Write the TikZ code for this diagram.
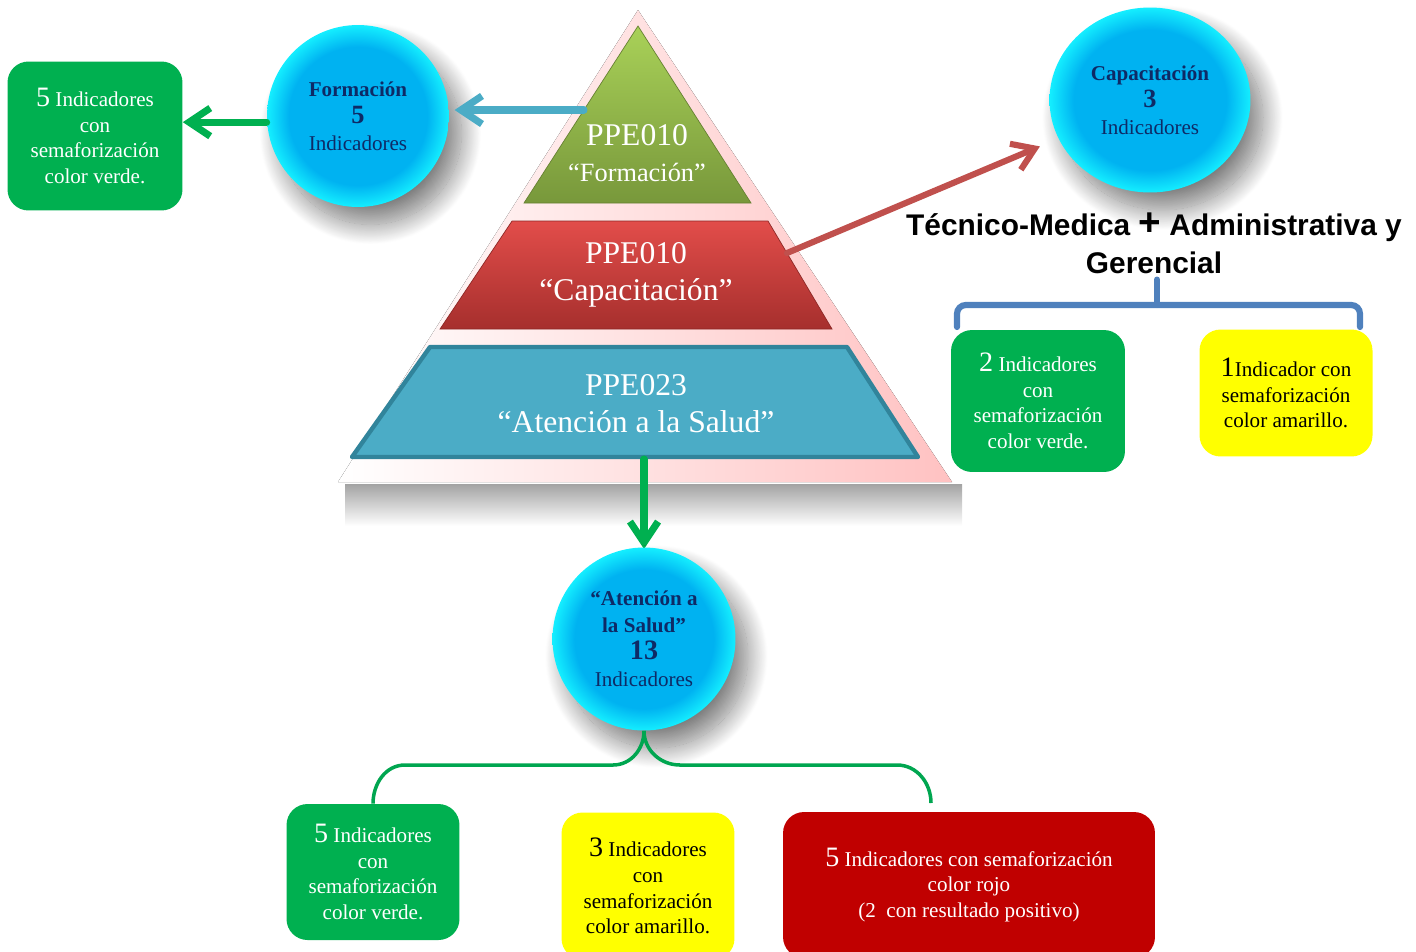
\documentclass[tikz,border=0pt]{standalone}
\usepackage{fontspec}
\setmainfont{Liberation Serif}
\newfontfamily\titulo{Liberation Sans}
\usetikzlibrary{arrows.meta,shapes.geometric,shadows.blur}

\definecolor{verde}{HTML}{00B050}
\definecolor{verdeR}{HTML}{00A650}
\definecolor{amarillo}{HTML}{FFFF00}
\definecolor{rojo}{HTML}{C00000}
\definecolor{azul}{HTML}{4BACC6}
\definecolor{azulosc}{HTML}{31849B}
\definecolor{marino}{HTML}{0E2A66}
\definecolor{cielo}{HTML}{00B2F1}
\definecolor{cian}{HTML}{14EEFF}
\definecolor{llavea}{HTML}{4F81BD}
\definecolor{flecharoja}{HTML}{C0504D}
\definecolor{verdeA}{HTML}{A9D158}
\definecolor{verdeB}{HTML}{78983B}
\definecolor{rojoA}{HTML}{E24D4A}
\definecolor{rojoB}{HTML}{A62F2D}

\pgfdeclareradialshading{burbuja}{\pgfpoint{0bp}{0bp}}{%
  color(0bp)=(cielo); color(19bp)=(cielo); color(25bp)=(cian); color(50bp)=(cian)}

\newcommand{\cifra}[1]{{\fontsize{16}{14.6}\selectfont #1}}

\begin{document}
\begin{tikzpicture}[x=0.02cm, y=-0.02cm,
    caja/.style={rounded corners=0.42cm, align=center, inner sep=0pt,
      font=\fontsize{12}{14.6}\selectfont},
    bola/.style={shading=burbuja, align=center, text=marino, inner sep=0pt,
      font=\fontsize{12}{15.3}\selectfont,
      blur shadow={shadow xshift=0.25cm, shadow yshift=-0.35cm,
        shadow blur radius=0.4cm, shadow blur steps=30, shadow opacity=50}},
    flecha/.style={line width=4pt, line cap=round,
      -{Straight Barb[length=12pt,width=16pt]}},
    nivel/.style={text=white, align=center},
    ramal/.style={line width=2pt, verdeR},
    llave/.style={line width=3.5pt, llavea, line cap=round, rounded corners=5pt}]

  \useasboundingbox (0,0) rectangle (1416,951);

  % sombra y fondo de la piramide
  \fill[top color=black!36, bottom color=white] (345,484) rectangle (962,526);
  \fill[left color=white, right color=red!24] (638,10) -- (952,482) -- (338,482) -- cycle;

  % niveles
  \draw[verdeB!85!black, top color=verdeA, bottom color=verdeB]
    (638,26) -- (751,203) -- (524,203) -- cycle;
  \draw[rojoB!85!black, top color=rojoA, bottom color=rojoB]
    (512,221) -- (768,221) -- (832,329) -- (440,329) -- cycle;
  \draw[azulosc, fill=azul, line width=2.5pt, line join=round]
    (430,347) -- (847,347) -- (918,457) -- (352,457) -- cycle;

  \node[nivel, font=\fontsize{18}{20.5}\selectfont] (nForm) at (637,153)
    {PPE010\\\fontsize{15}{20.5}\selectfont “Formación”};
  \node[nivel, font=\fontsize{18}{21}\selectfont] (nCap) at (636,275)
    {PPE010\\“Capacitación”};
  \node[nivel, font=\fontsize{18}{21}\selectfont] (nAten) at (636,404)
    {PPE023\\“Atención a la Salud”};

  \coordinate (pF) at (584,110);
  \coordinate (pC) at (787,253);
  \coordinate (pA) at (644,459);

  % circulos
  \node[bola, circle, minimum size=3.64cm] (cForm) at (358,116)
    {\textbf{Formación}\\{\fontsize{15}{15.3}\selectfont\bfseries 5}\\Indicadores};
  \node[bola, ellipse, minimum width=4.02cm, minimum height=3.7cm] (cCap) at (1150,100)
    {\textbf{Capacitación}\\{\fontsize{15}{15.3}\selectfont\bfseries 3}\\Indicadores};
  \draw[flecha, verde] (pA) -- (644,549);
  \node[bola, circle, minimum size=3.66cm] (cAten) at (644,639)
    {\textbf{“Atención a}\\\textbf{la Salud”}\\{\fontsize{16}{15.3}\selectfont\bfseries 13}\\Indicadores};

  % flechas
  \draw[flecha, azul, shorten >=3pt] (pF) -- (pF -| cForm.east);
  \draw[flecha, flecharoja, line width=3.5pt, shorten >=0.4cm] (pC) -- (cCap);

  % cajas
  \node[caja, fill=verde, text=white, minimum width=3.5cm, minimum height=2.98cm] (bForm) at (95,136)
    {\cifra{5} Indicadores\\con\\semaforización\\color verde.};
  \node[caja, fill=verde, text=white, minimum width=3.48cm, minimum height=2.84cm] (bCapV) at (1038,401)
    {\cifra{2} Indicadores\\con\\semaforización\\color verde.};
  \node[caja, fill=amarillo, minimum width=3.46cm, minimum height=2.54cm] (bCapA) at (1286,393)
    {\cifra{1}Indicador con\\semaforización\\color amarillo.};
  \node[caja, fill=verde, text=white, minimum width=3.46cm, minimum height=2.72cm] (bAtenV) at (373,872)
    {\cifra{5} Indicadores\\con\\semaforización\\color verde.};
  \node[caja, fill=amarillo, minimum width=3.46cm, minimum height=2.94cm] (bAtenA) at (648,886)
    {\cifra{3} Indicadores\\con\\semaforización\\color amarillo.};
  \node[caja, fill=rojo, text=white, minimum width=7.44cm, minimum height=2.92cm] (bAtenR) at (969,885)
    {\cifra{5} Indicadores con semaforización\\color rojo\\(2\ \ con resultado positivo)};

  \draw[flecha, verde] ([yshift=-3.5pt]cForm.west) -- ([yshift=-3.5pt]cForm.west -| bForm.east);

  % titulo y llaves
  \node[font=\titulo\bfseries\fontsize{17}{21.5}\selectfont, align=center] (tit) at (1154,243)
    {Técnico-Medica {\fontsize{22}{21.5}\selectfont+} Administrativa y\\Gerencial};

  \coordinate (llI) at (957,327);
  \coordinate (llM) at (1157,305);
  \coordinate (llD) at (1360,327);
  \draw[llave] (llI) |- (llM) -| (llD);
  \draw[llave] (llM) -- (llM |- tit.south);

  \draw[ramal] (cAten.south) to[out=-90, in=0] (613,765) -- (405,765)
    to[out=180, in=90] (bAtenV.north);
  \coordinate (rF) at (931,803);
  \draw[ramal] (cAten.south) to[out=-90, in=180] (680,765) -- (897,765)
    to[out=0, in=90] (rF);
\end{tikzpicture}
\end{document}
